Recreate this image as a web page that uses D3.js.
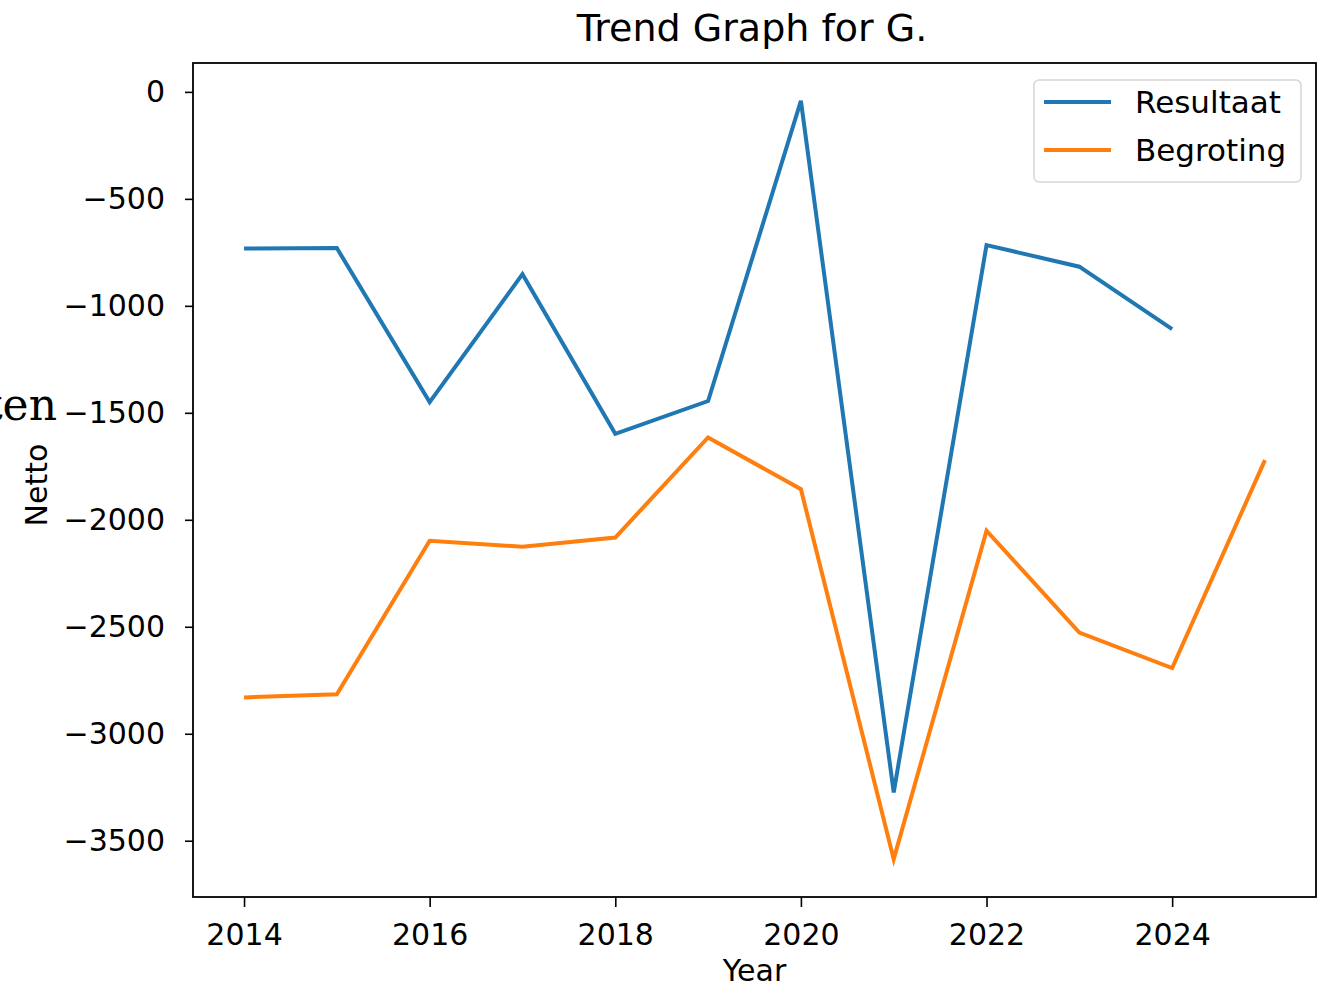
<!DOCTYPE html>
<html>
<head>
<meta charset="utf-8">
<script src="https://cdn.jsdelivr.net/npm/d3@7"></script>
<style>
  body { margin: 0; background: #fff; }
  svg { display: block; }
  text { font-family: "DejaVu Sans", sans-serif; fill: #000; }
</style>
</head>
<body>
<div id="chart"></div>
<script>
// data
var years = [2014, 2015, 2016, 2017, 2018, 2019, 2020, 2021, 2022, 2023, 2024, 2025];
var resultaat = [-732, -730, -1450, -852, -1598, -1445, -42, -3274, -716, -817, -1109, null];
var begroting = [-2830, -2815, -2098, -2126, -2083, -1615, -1857, -3586, -2051, -2527, -2693, -1721];
var seriesNames = ["Resultaat", "Begroting"];
var seriesColors = ["#1f77b4", "#ff7f0e"];
var xTicks = [2014, 2016, 2018, 2020, 2022, 2024];
var yTicks = [0, -500, -1000, -1500, -2000, -2500, -3000, -3500];

var W = 1319, H = 990;
var margin = {top: 63, right: 3, bottom: 93, left: 193},
    width = W - margin.left - margin.right,
    height = H - margin.top - margin.bottom;

var svg = d3.select("#chart").append("svg")
    .attr("width", W)
    .attr("height", H);

var g = svg.append("g")
    .attr("transform", "translate(" + margin.left + "," + margin.top + ")");

// matplotlib style 5% padding
var x = d3.scaleLinear().domain([2013.45, 2025.55]).range([0, width]);
var y = d3.scaleLinear().domain([-3763, 135]).range([height, 0]);

var fs = 30;

// axes
var xAxis = g.append("g")
    .attr("transform", "translate(0," + height + ")")
    .call(d3.axisBottom(x).tickValues(xTicks).tickFormat(d3.format("d")).tickSize(10).tickPadding(15));
var yAxis = g.append("g")
    .call(d3.axisLeft(y).tickValues(yTicks).tickFormat(function(d) { return d < 0 ? "\u2212" + Math.abs(d) : d; }).tickSize(8).tickPadding(20));

[xAxis, yAxis].forEach(function(a) {
  a.select(".domain").remove();
  a.selectAll(".tick line").attr("stroke", "#000").attr("stroke-width", 1.6);
  a.selectAll(".tick text")
    .style("font-family", "'DejaVu Sans', sans-serif")
    .style("font-size", fs + "px")
    .attr("fill", "#1a1a1a");
});
xAxis.selectAll(".tick text").attr("dy", "0.75em");

// lines
var line = d3.line()
    .defined(function(d) { return d[1] != null; })
    .x(function(d) { return x(d[0]); })
    .y(function(d) { return y(d[1]); });

[resultaat, begroting].forEach(function(vals, i) {
  g.append("path")
    .datum(years.map(function(yr, j) { return [yr, vals[j]]; }))
    .attr("fill", "none")
    .attr("stroke", seriesColors[i])
    .attr("stroke-width", 4)
    .attr("stroke-linejoin", "miter")
    .attr("d", line);
});

// frame
g.append("rect")
    .attr("width", width)
    .attr("height", height)
    .attr("fill", "none")
    .attr("stroke", "#000")
    .attr("stroke-width", 1.8);

// legend
var legend = g.append("g").attr("transform", "translate(" + (width - 282) + ",17)");
legend.append("rect")
    .attr("width", 267)
    .attr("height", 102)
    .attr("rx", 5)
    .attr("fill", "#fff")
    .attr("fill-opacity", 0.8)
    .attr("stroke", "#d6d6d6")
    .attr("stroke-width", 1.5);
seriesNames.forEach(function(name, i) {
  var ly = 22 + i * 48;
  legend.append("line")
    .attr("x1", 10).attr("x2", 77)
    .attr("y1", ly).attr("y2", ly)
    .attr("stroke", seriesColors[i])
    .attr("stroke-width", 4);
  legend.append("text")
    .attr("x", 101)
    .attr("y", ly)
    .attr("dy", "0.35em")
    .style("font-size", "31px")
    .attr("fill", "#1a1a1a")
    .text(name);
});

// titles
svg.append("text")
    .attr("x", 752)
    .attr("y", 41)
    .attr("text-anchor", "middle")
    .style("font-size", "38px")
    .text("Trend Graph for G.");

svg.append("text")
    .attr("x", margin.left + width / 2)
    .attr("y", 981)
    .attr("text-anchor", "middle")
    .style("font-size", fs + "px")
    .text("Year");

svg.append("text")
    .attr("transform", "translate(47,485) rotate(-90)")
    .attr("text-anchor", "middle")
    .style("font-size", fs + "px")
    .text("Netto");

// stray label cut at the left edge
svg.append("text")
    .attr("x", 57)
    .attr("y", 420)
    .attr("text-anchor", "end")
    .style("font-family", "'DejaVu Serif', serif")
    .style("font-size", "44px")
    .text("Kosten");
</script>
</body>
</html>
